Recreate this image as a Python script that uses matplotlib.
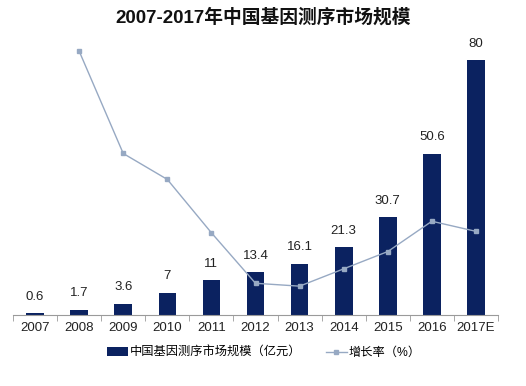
import matplotlib
matplotlib.use("Agg")

import matplotlib.pyplot as plt
import numpy as np

plt.rcParams["font.family"] = ["Liberation Sans", "Noto Sans CJK SC", "DejaVu Sans"]

years = ["2007", "2008", "2009", "2010", "2011", "2012", "2013", "2014", "2015", "2016", "2017E"]
market = [0.6, 1.7, 3.6, 7, 11, 13.4, 16.1, 21.3, 30.7, 50.6, 80]
growth = [np.nan, 183, 112, 94, 57, 22, 20, 32, 44, 65, 58]
value_labels = ["0.6", "1.7", "3.6", "7", "11", "13.4", "16.1", "21.3", "30.7", "50.6", "80"]

BAR = "#0b2260"
LINE = "#97a9c3"

fig = plt.figure(figsize=(5.26, 3.86), dpi=100)
ax = fig.add_axes([13 / 526, 71 / 386, 485 / 526, 287 / 386])
x = np.arange(len(years))
bars = ax.bar(x, market, width=0.4, color=BAR, zorder=2)
for xi, v, lab in zip(x, market, value_labels):
    ax.text(xi, v + 3.2, lab, ha="center", va="bottom", fontsize=9.5, color="#222222")

ax.set_xlim(-0.5, len(years) - 0.5)
ax.set_ylim(0, 90)
ax.set_yticks([])
for s in ("left", "right", "top"):
    ax.spines[s].set_visible(False)
ax.spines["bottom"].set_color("#9a9a9a")
ax.set_xticks(x)
ax.set_xticklabels(years, fontsize=9.5, color="#222222")
ax.tick_params(axis="x", which="major", length=0, pad=5)
ax.set_xticks(np.arange(-0.5, len(years), 1), minor=True)
ax.tick_params(axis="x", which="minor", length=4, color="#9a9a9a", direction="out")

ax2 = ax.twinx()
line, = ax2.plot(x, growth, color=LINE, lw=1, marker="s", ms=3, zorder=3)
ax2.set_ylim(0, 199)
ax2.set_yticks([])
for s in ax2.spines.values():
    s.set_visible(False)

fig.text(0.5, 0.955, "2007-2017年中国基因测序市场规模", ha="center", va="center",
         fontsize=13.5, fontweight="bold", color="#111111")

fig.legend([bars, line], ["中国基因测序市场规模（亿元）", "增长率（%）"],
           loc="center", bbox_to_anchor=(264 / 526, 1 - 353 / 386), ncol=2, frameon=False,
           fontsize=8.8, handlelength=1.7, columnspacing=2.0, handletextpad=0.15)

fig.savefig("out.png", dpi=100)
